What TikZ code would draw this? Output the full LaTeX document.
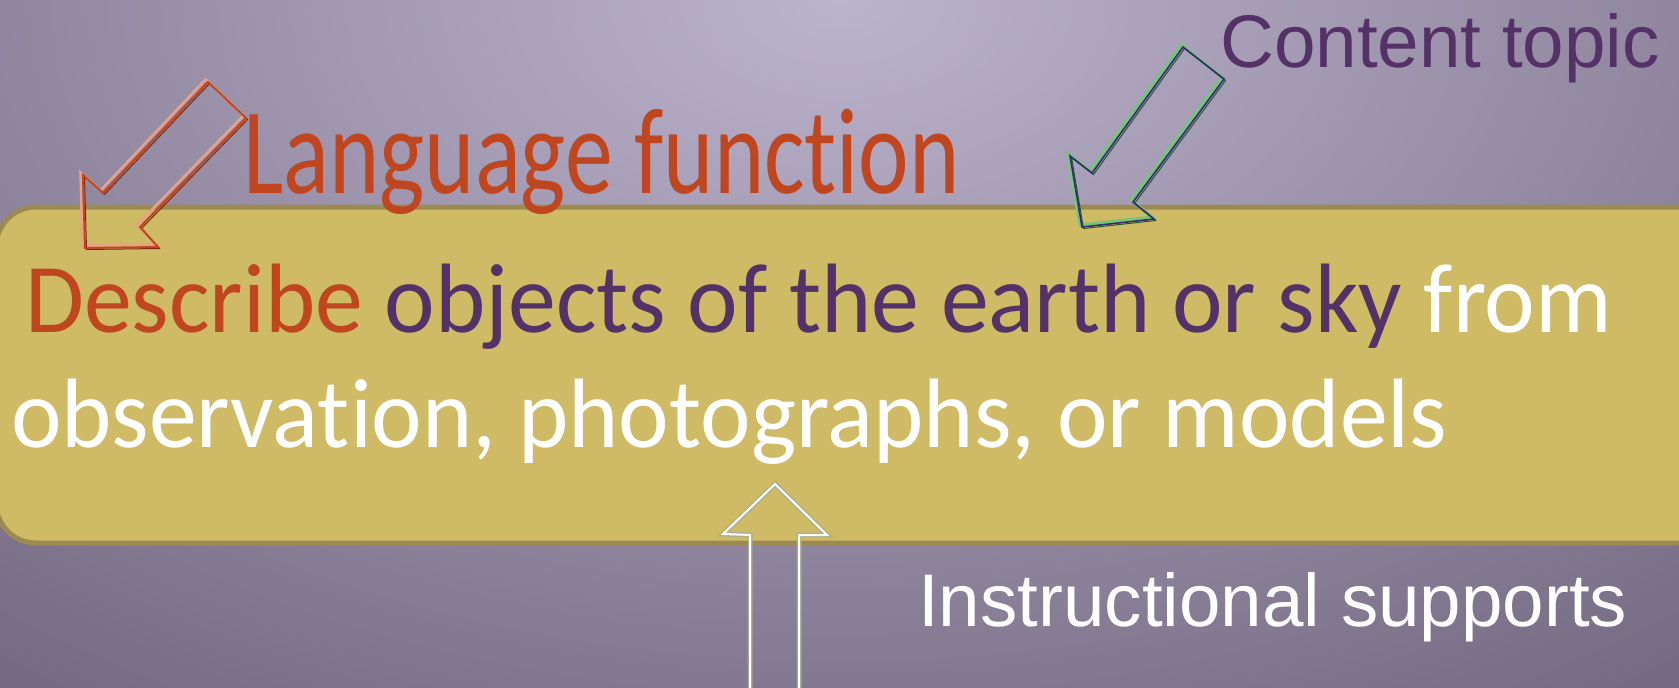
\documentclass[tikz,border=0pt]{standalone}
\usepackage{fontspec}
\setmainfont{Carlito}[Ligatures={NoCommon}]
\newfontfamily\arialfont{Liberation Sans}
\definecolor{FunctionRed}{RGB}{192, 70, 32}
\definecolor{TopicPlum}{RGB}{84, 50, 104}
\definecolor{BoxGold}{RGB}{207, 186, 102}
\definecolor{BoxEdge}{RGB}{156, 139, 80}
\definecolor{BgLight}{RGB}{188, 179, 204}
\definecolor{BgDark}{RGB}{104, 94, 118}
\definecolor{ShadeOrange}{RGB}{236, 160, 135}
\definecolor{OutlineGreen}{RGB}{120, 196, 124}
\definecolor{DeepGreen}{RGB}{30, 90, 40}
\definecolor{TopicNavy}{RGB}{52, 44, 112}
\definecolor{SupportGrey}{RGB}{168, 174, 146}

\begin{document}
\begin{tikzpicture}[x=1pt, y=-1pt,
    bigtext/.style={anchor=base west, inner sep=0pt, font=\fontsize{95.8}{115}\selectfont},
    sanstext/.style={anchor=base west, inner sep=0pt, font=\arialfont\fontsize{74.6}{88}\selectfont},
    blockline/.style={line width=2pt, line join=miter}]
    \useasboundingbox (0,0) rectangle (1679,688);
    % background, lighter at the top centre
    \begin{scope}
        \clip (0,0) rectangle (1679,688);
        \shade[inner color=BgLight, outer color=BgDark] (-760,-1000) rectangle (2440,1000);
    \end{scope}

    % the objective strip
    \draw[BoxEdge, line width=5pt, fill=BoxGold, rounded corners=40pt] (-4,207) rectangle (1740,543);

    \node[bigtext, yscale=1.03] (line1) at (25,332)
        {{\color{FunctionRed}Describe} {\color{TopicPlum}objects of the earth or sky} {\color{white}from}};
    \node[bigtext, yscale=1.03, white] (line2) at (11,447) {observation, photographs, or models};

    % labels
    \node[bigtext, FunctionRed, yscale=1.28] (lang) at (243,193) {Language function};
    \node[sanstext, TopicPlum] (topic) at (1220,67) {Content topic};
    \node[sanstext, white] (supports) at (918,626) {Instructional supports};

    % block arrows
    \draw[blockline, ShadeOrange, line width=2.5pt, shift={(-2.5,-2.5)}]
        (208,82) -- (246,118) -- (140,227) -- (158,247) -- (85,248) -- (83,175) -- (103,193) -- cycle;
    \draw[blockline, FunctionRed!60!black, line width=1pt, shift={(1.5,1.5)}]
        (208,82) -- (246,118) -- (140,227) -- (158,247) -- (85,248) -- (83,175) -- (103,193) -- cycle;
    \draw[blockline, FunctionRed]
        (208,82) -- (246,118) -- (140,227) -- (158,247) -- (85,248) -- (83,175) -- (103,193) -- cycle;

    \draw[blockline, OutlineGreen, line width=3pt, shift={(-2,-2)}]
        (1183,47) -- (1224,79) -- (1133,202) -- (1154,219) -- (1082,227) -- (1070,156) -- (1092,173) -- cycle;
    \draw[blockline, DeepGreen, line width=1pt, shift={(1.5,1.5)}]
        (1183,47) -- (1224,79) -- (1133,202) -- (1154,219) -- (1082,227) -- (1070,156) -- (1092,173) -- cycle;
    \draw[blockline, TopicNavy, line width=1.6pt]
        (1183,47) -- (1224,79) -- (1133,202) -- (1154,219) -- (1082,227) -- (1070,156) -- (1092,173) -- cycle;

    \draw[blockline, SupportGrey, line width=5pt, opacity=0.8]
        (750,700) -- (750,535) -- (723,534) -- (775,484) -- (827,535) -- (799,535) -- (799,700);
    \draw[blockline, white]
        (750,700) -- (750,535) -- (723,534) -- (775,484) -- (827,535) -- (799,535) -- (799,700);
\end{tikzpicture}
\end{document}
